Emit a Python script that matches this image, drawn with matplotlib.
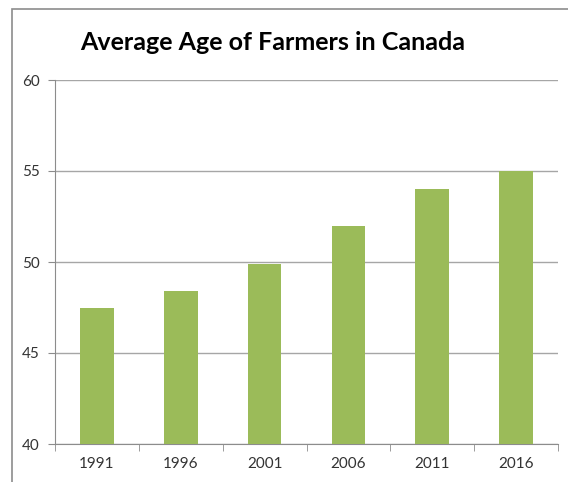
import matplotlib.pyplot as plt
import numpy as np
from matplotlib.patches import Rectangle

years = ["1991", "1996", "2001", "2006", "2011", "2016"]
ages = [47.5, 48.4, 49.9, 52.0, 54.0, 55.0]
yticks = [40, 45, 50, 55, 60]

plt.rcParams['font.family'] = ['Lato', 'DejaVu Sans']

W, H = 568, 482
fig = plt.figure(figsize=(W / 100, H / 100), dpi=100)
fig.patch.set_facecolor('white')

# outer chart border (cropped screenshot of a spreadsheet chart)
fig.patches.append(Rectangle((12 / W, -0.1), 1.2, 1 - 9 / H + 0.1, transform=fig.transFigure,
                             fill=False, edgecolor='#8c8c8c', linewidth=1.2))

ax = fig.add_axes([55 / W, 1 - 444 / H, (558 - 55) / W, (444 - 80) / H])
x = np.arange(len(years))
ax.bar(x, ages, width=0.40, color='#9bbb59', zorder=3)

ax.set_ylim(40, 60)
ax.set_xlim(-0.5, len(years) - 0.5)
ax.set_yticks(yticks)
ax.yaxis.grid(True, color='#a6a6a6', linewidth=1)
ax.set_axisbelow(True)
ax.set_xticks(x)
ax.set_xticklabels(years)
ax.set_xticks(np.arange(-0.5, len(years)), minor=True)
ax.tick_params(axis='x', which='major', length=0, pad=9, labelsize=11, labelcolor='#333333')
ax.tick_params(axis='x', which='minor', length=5, color='#8c8c8c')
ax.tick_params(axis='y', length=5, color='#8c8c8c', pad=6, labelsize=11, labelcolor='#333333')

for s in ['top', 'right']:
    ax.spines[s].set_visible(False)
for s in ['left', 'bottom']:
    ax.spines[s].set_color('#8c8c8c')

fig.text(273 / W, 1 - 42 / H, "Average Age of Farmers in Canada", ha='center', va='center',
         fontsize=18, fontweight='bold', color='black')

fig.savefig("out.png", dpi=100)
